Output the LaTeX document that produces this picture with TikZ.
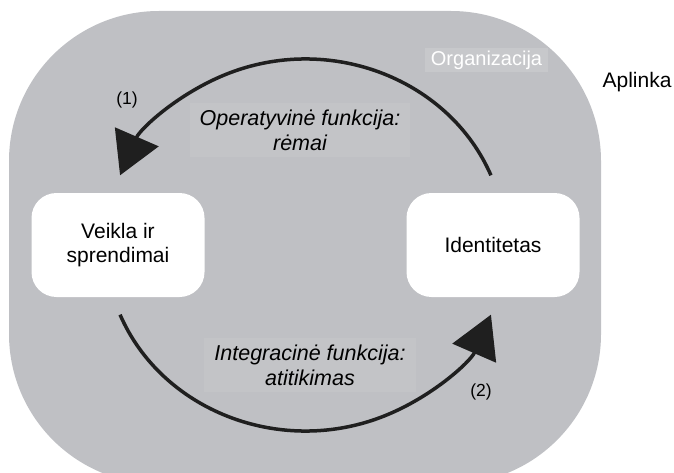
\documentclass[tikz,border=0pt]{standalone}
\usepackage{fontspec}
\setmainfont{Liberation Sans}
\usetikzlibrary{arrows.meta,calc}
\definecolor{orggray}{RGB}{191,192,196}
\definecolor{lblgray}{RGB}{195,196,199}
\definecolor{orglbl}{RGB}{199,200,203}
\begin{document}
\begin{tikzpicture}[x=1pt,y=1pt,
  unit/.style={fill=white,rounded corners=25pt,minimum width=173pt,minimum height=104pt,align=center,font=\fontsize{21}{24}\selectfont},
  func/.style={fill=lblgray,align=center,inner xsep=10pt,inner ysep=7pt,font=\fontsize{21.5}{25}\selectfont\itshape},
  num/.style={inner sep=0pt,font=\fontsize{17.5}{20}\selectfont},
  loopline/.style={line width=3.5pt,draw=black!88,-{Triangle[length=42pt,width=47pt,fill=black!88]}}]
\useasboundingbox (0,0) rectangle (674,472);
% organisation and its environment
\fill[orggray,rounded corners=150pt] (9,-12) rectangle (601,461);
\node[inner sep=0pt,anchor=base,font=\fontsize{21}{24}\selectfont] (env) at (637,384) {Aplinka};
\node[fill=orglbl,text=white,inner sep=0pt,minimum width=123pt,minimum height=24pt,font=\fontsize{20}{24}\selectfont] (org) at (486.5,412) {Organizacija};
% the two parts
\node[unit] (act) at (118,227) {Veikla ir\\sprendimai};
\node[unit] (ident) at (493,227) {Identitetas};
% the two functions
\coordinate (mid) at ($(act)!0.5!(ident)$);
\path (mid) ++(22:200pt and 186pt) coordinate (opStart);
\path (mid) ++(202:200pt and 186pt) coordinate (inStart);
\draw[loopline] (opStart) arc[start angle=22,end angle=158,x radius=200pt,y radius=186pt];
\draw[loopline] (inStart) arc[start angle=202,end angle=338,x radius=200pt,y radius=186pt];
\node[func] (op) at (300,342) {Operatyvinė funkcija:\\rėmai};
\node[func] (integ) at (310,107) {Integracinė funkcija:\\atitikimas};
\node[num] (n1) at (127,372) {(1)};
\node[num] (n2) at (481,80) {(2)};
\end{tikzpicture}
\end{document}
